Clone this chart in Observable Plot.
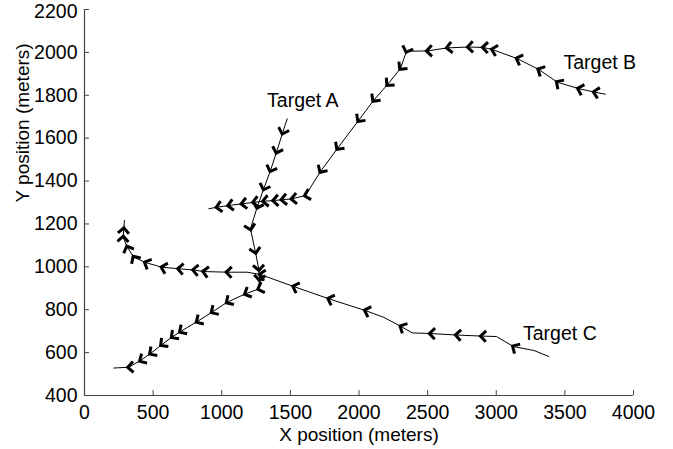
<!DOCTYPE html>
<html>
<head>
<meta charset="utf-8">
<script src="https://cdn.jsdelivr.net/npm/d3@7"></script>
<script src="https://cdn.jsdelivr.net/npm/@observablehq/plot@0.6"></script>
<style>
  html, body { margin: 0; padding: 0; background: white; }
  #chart { padding-top: 3px; }
  #chart svg { display: block; }
</style>
</head>
<body>
<div id="chart"></div>
<script>
// Axis ticks
const xTicks = [0, 500, 1000, 1500, 2000, 2500, 3000, 3500, 4000];
const yTicks = [400, 600, 800, 1000, 1200, 1400, 1600, 1800, 2000, 2200];

// Target A track (travel order), 1 = chevron drawn at that point
const targetA_x = [1477, 1443, 1399, 1355, 1306, 1258, 1209, 1246, 1270, 1275, 1270, 1173, 1040, 930, 821, 699, 639, 561, 481, 408, 323, 214];
const targetA_y = [1690, 1624, 1535, 1449, 1364, 1278, 1177, 1068, 988, 941, 897, 874, 835, 789, 745, 698, 673, 636, 596, 563, 532, 528];
const targetA_mark = [0, 1, 1, 1, 1, 1, 1, 1, 1, 1, 1, 1, 1, 1, 1, 1, 1, 1, 1, 1, 1, 0];

// Target B track
const targetB_x = [3795, 3715, 3600, 3445, 3310, 3153, 2973, 2907, 2798, 2645, 2499, 2346, 2302, 2208, 2106, 1996, 1843, 1720, 1610, 1513, 1440, 1379, 1306, 1233, 1149, 1051, 967, 906];
const targetB_y = [1805, 1815, 1831, 1861, 1920, 1971, 2013, 2023, 2025, 2021, 2007, 2005, 1925, 1850, 1776, 1682, 1552, 1445, 1333, 1317, 1313, 1309, 1306, 1301, 1294, 1286, 1278, 1271];
const targetB_mark = [0, 1, 1, 1, 1, 1, 1, 1, 1, 1, 1, 1, 1, 1, 1, 1, 1, 1, 1, 1, 1, 1, 1, 1, 1, 1, 1, 0];

// Target C track
const targetC_x = [3383, 3274, 3126, 3002, 2893, 2710, 2521, 2388, 2306, 2178, 2047, 1780, 1525, 1282, 1185, 1040, 869, 796, 687, 566, 444, 359, 311, 282, 286, 291];
const targetC_y = [582, 610, 628, 675, 677, 682, 689, 692, 722, 765, 796, 851, 908, 964, 975, 975, 978, 985, 991, 998, 1020, 1045, 1092, 1138, 1177, 1216];
const targetC_mark = [0, 0, 1, 0, 1, 1, 1, 0, 1, 0, 1, 1, 1, 1, 0, 1, 1, 1, 1, 1, 1, 1, 1, 1, 1, 0];

// Annotations
const labelText = ["Target A", "Target B", "Target C"];
const labelX = [1330, 3490, 3195];
const labelY = [1775, 1950, 690];

// Layout
const W = 673, H = 446;
const mL = 84, mR = 40, mT = 6, mB = 54;
const xDomain = [0, 4000], yDomain = [400, 2200];
const kx = (W - mL - mR) / (xDomain[1] - xDomain[0]);
const ky = (H - mT - mB) / (yDomain[1] - yDomain[0]);

function track(name, xs, ys, ms) {
  const pts = xs.map((x, i) => ({name, i, x, y: ys[i], m: ms[i]}));
  pts.forEach((p, i) => {
    const j = i < pts.length - 1 ? i + 1 : i;
    const k = i < pts.length - 1 ? i : i - 1;
    const dx = (pts[j].x - pts[k].x) * kx;
    const dy = -(pts[j].y - pts[k].y) * ky;
    p.angle = Math.atan2(dy, dx) * 180 / Math.PI;
  });
  return pts;
}
const tracks = [
  track("A", targetA_x, targetA_y, targetA_mark),
  track("B", targetB_x, targetB_y, targetB_mark),
  track("C", targetC_x, targetC_y, targetC_mark)
];
const allPts = tracks.flat();
const markers = allPts.filter(p => p.m === 1);

const chevron = {
  draw(context, size) {
    const r = Math.sqrt(size / Math.PI);
    context.moveTo(-0.8 * r, -r);
    context.lineTo(0.2 * r, 0);
    context.lineTo(-0.8 * r, r);
  }
};

const labels = labelText.map((t, i) => ({t, x: labelX[i], y: labelY[i]}));

const axisColor = "#444";
const topTick = yTicks[yTicks.length - 1];

const chart = Plot.plot({
  width: W,
  height: H,
  marginLeft: mL,
  marginRight: mR,
  marginTop: mT,
  marginBottom: mB,
  style: {fontFamily: "'Liberation Sans', Arial, Helvetica, sans-serif", fontSize: "19px", background: "white", color: "black", overflow: "visible"},
  x: {domain: xDomain},
  y: {domain: yDomain},
  marks: [
    Plot.axisX({ticks: xTicks, tickSize: -5, tickPadding: 15, tickFormat: d => `${d}`, label: null, stroke: axisColor, fill: "black", fontSize: 19.5}),
    Plot.axisY({ticks: yTicks, tickSize: -5, tickPadding: 12, tickFormat: d => (d === topTick ? "" : `${d}`), label: null, stroke: axisColor, fill: "black", fontSize: 19.5}),
    Plot.axisY({ticks: [topTick], tickSize: 0, tickPadding: 7, tickFormat: d => `${d}`, label: null, fill: "black", fontSize: 19.5, dy: 2.6}),
    Plot.ruleY([yDomain[0]], {stroke: axisColor, strokeWidth: 1.2}),
    Plot.ruleX([xDomain[0]], {stroke: axisColor, strokeWidth: 1.2}),
    Plot.line(allPts, {x: "x", y: "y", z: "name", stroke: "black", strokeWidth: 1}),
    Plot.dot(markers, {x: "x", y: "y", rotate: "angle", symbol: chevron, r: 5.5, fill: "none", stroke: "black", strokeWidth: 3, strokeLinejoin: "miter", strokeLinecap: "butt"}),
    Plot.text(labels, {x: "x", y: "y", text: "t", textAnchor: "start", lineAnchor: "middle", fontSize: 19.5, fill: "black"}),
    Plot.text(["X position (meters)"], {frameAnchor: "bottom", dy: 39.6, lineAnchor: "middle", fontSize: 19, fill: "black"}),
    Plot.text(["Y position (meters)"], {frameAnchor: "left", dx: -62, rotate: -90, lineAnchor: "middle", fontSize: 19, fill: "black"})
  ]
});
document.getElementById("chart").appendChild(chart);
</script>
</body>
</html>
